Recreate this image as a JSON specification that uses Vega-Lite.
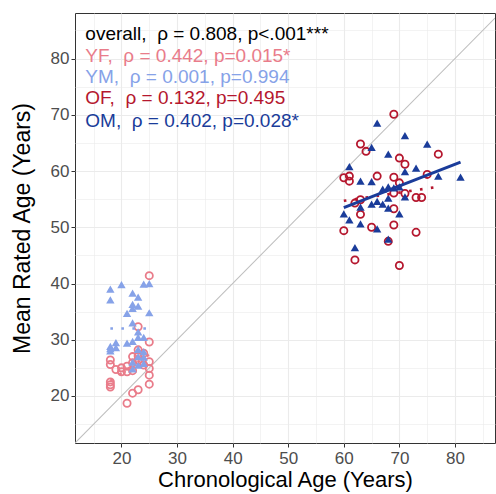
{
  "$schema": "https://vega.github.io/schema/vega-lite/v6.json",
  "autosize": "none",
  "width": 420,
  "height": 430,
  "padding": {"left": 75, "top": 13, "right": 1, "bottom": 51},
  "background": "white",
  "config": {
    "font": "Liberation Sans",
    "view": {"stroke": "#333333", "strokeWidth": 1},
    "axis": {
      "labelFont": "Liberation Sans",
      "titleFont": "Liberation Sans",
      "labelFontSize": 17,
      "labelColor": "#4D4D4D",
      "titleFontSize": 22,
      "titleFontWeight": "normal",
      "titleColor": "#000000",
      "domain": false,
      "gridColor": "#EBEBEB",
      "tickColor": "#333333",
      "tickSize": 4,
      "labelPadding": 2,
      "labelOverlap": false,
      "labelFlush": false
    }
  },
  "datasets": {
    "pts": [
      {"grp": "YF", "age": 25, "rated": 41.4},
      {"grp": "YF", "age": 23, "rated": 32.3},
      {"grp": "YF", "age": 25, "rated": 29.6},
      {"grp": "YF", "age": 23, "rated": 28.2},
      {"grp": "YF", "age": 23, "rated": 27.1},
      {"grp": "YF", "age": 18, "rated": 26.4},
      {"grp": "YF", "age": 18, "rated": 25.6},
      {"grp": "YF", "age": 19, "rated": 24.7},
      {"grp": "YF", "age": 20, "rated": 24.3},
      {"grp": "YF", "age": 21, "rated": 24.3},
      {"grp": "YF", "age": 21, "rated": 25.3},
      {"grp": "YF", "age": 22, "rated": 25.9},
      {"grp": "YF", "age": 23, "rated": 26.4},
      {"grp": "YF", "age": 25, "rated": 26.1},
      {"grp": "YF", "age": 18, "rated": 22.5},
      {"grp": "YF", "age": 18, "rated": 22.0},
      {"grp": "YF", "age": 18, "rated": 21.6},
      {"grp": "YF", "age": 25, "rated": 24.9},
      {"grp": "YF", "age": 25, "rated": 23.7},
      {"grp": "YF", "age": 25, "rated": 22.1},
      {"grp": "YF", "age": 23, "rated": 21.1},
      {"grp": "YF", "age": 22, "rated": 20.5},
      {"grp": "YF", "age": 21, "rated": 18.7},
      {"grp": "YF", "age": 22, "rated": 27.0},
      {"grp": "YF", "age": 24, "rated": 27.6},
      {"grp": "YF", "age": 20, "rated": 25.0},
      {"grp": "YF", "age": 24, "rated": 25.5},
      {"grp": "YF", "age": 22, "rated": 24.5},
      {"grp": "YM", "age": 24, "rated": 39.9},
      {"grp": "YM", "age": 25, "rated": 40.0},
      {"grp": "YM", "age": 18, "rated": 39.0},
      {"grp": "YM", "age": 20, "rated": 39.8},
      {"grp": "YM", "age": 18, "rated": 37.1},
      {"grp": "YM", "age": 22, "rated": 38.3},
      {"grp": "YM", "age": 23, "rated": 37.6},
      {"grp": "YM", "age": 22, "rated": 36.3},
      {"grp": "YM", "age": 22, "rated": 35.6},
      {"grp": "YM", "age": 23, "rated": 36.0},
      {"grp": "YM", "age": 21, "rated": 34.7},
      {"grp": "YM", "age": 25, "rated": 34.8},
      {"grp": "YM", "age": 22, "rated": 33.0},
      {"grp": "YM", "age": 23, "rated": 31.4},
      {"grp": "YM", "age": 23, "rated": 30.4},
      {"grp": "YM", "age": 24, "rated": 30.4},
      {"grp": "YM", "age": 19, "rated": 29.5},
      {"grp": "YM", "age": 22, "rated": 29.7},
      {"grp": "YM", "age": 21, "rated": 29.4},
      {"grp": "YM", "age": 18, "rated": 28.4},
      {"grp": "YM", "age": 18, "rated": 28.0},
      {"grp": "YM", "age": 19, "rated": 28.6},
      {"grp": "YM", "age": 23, "rated": 28.3},
      {"grp": "YM", "age": 24, "rated": 27.9},
      {"grp": "YM", "age": 24, "rated": 26.9},
      {"grp": "YM", "age": 23, "rated": 27.0},
      {"grp": "YM", "age": 22, "rated": 26.0},
      {"grp": "YM", "age": 23, "rated": 25.5},
      {"grp": "YM", "age": 24, "rated": 25.8},
      {"grp": "YM", "age": 22, "rated": 24.8},
      {"grp": "YM", "age": 18, "rated": 28.8},
      {"grp": "OF", "age": 69, "rated": 70.1},
      {"grp": "OF", "age": 63, "rated": 64.8},
      {"grp": "OF", "age": 64, "rated": 63.5},
      {"grp": "OF", "age": 77, "rated": 63.0},
      {"grp": "OF", "age": 70, "rated": 62.3},
      {"grp": "OF", "age": 71, "rated": 61.2},
      {"grp": "OF", "age": 60, "rated": 58.8},
      {"grp": "OF", "age": 61, "rated": 59.1},
      {"grp": "OF", "age": 61, "rated": 58.2},
      {"grp": "OF", "age": 66, "rated": 59.1},
      {"grp": "OF", "age": 69, "rated": 58.9},
      {"grp": "OF", "age": 70, "rated": 57.9},
      {"grp": "OF", "age": 75, "rated": 59.4},
      {"grp": "OF", "age": 69, "rated": 56.1},
      {"grp": "OF", "age": 71, "rated": 56.0},
      {"grp": "OF", "age": 62, "rated": 54.3},
      {"grp": "OF", "age": 63, "rated": 54.9},
      {"grp": "OF", "age": 63, "rated": 52.3},
      {"grp": "OF", "age": 73, "rated": 55.3},
      {"grp": "OF", "age": 74, "rated": 55.3},
      {"grp": "OF", "age": 69, "rated": 53.3},
      {"grp": "OF", "age": 69, "rated": 50.4},
      {"grp": "OF", "age": 65, "rated": 50.0},
      {"grp": "OF", "age": 60, "rated": 49.4},
      {"grp": "OF", "age": 68, "rated": 47.5},
      {"grp": "OF", "age": 73, "rated": 49.1},
      {"grp": "OF", "age": 62, "rated": 44.2},
      {"grp": "OF", "age": 70, "rated": 43.2},
      {"grp": "OM", "age": 66, "rated": 68.5},
      {"grp": "OM", "age": 71, "rated": 66.3},
      {"grp": "OM", "age": 75, "rated": 64.8},
      {"grp": "OM", "age": 65, "rated": 64.2},
      {"grp": "OM", "age": 68, "rated": 63.0},
      {"grp": "OM", "age": 61, "rated": 60.8},
      {"grp": "OM", "age": 73, "rated": 60.5},
      {"grp": "OM", "age": 71, "rated": 59.9},
      {"grp": "OM", "age": 63, "rated": 58.2},
      {"grp": "OM", "age": 65, "rated": 58.1},
      {"grp": "OM", "age": 77, "rated": 59.1},
      {"grp": "OM", "age": 81, "rated": 58.9},
      {"grp": "OM", "age": 67, "rated": 56.8},
      {"grp": "OM", "age": 68, "rated": 57.2},
      {"grp": "OM", "age": 70, "rated": 57.2},
      {"grp": "OM", "age": 69, "rated": 57.0},
      {"grp": "OM", "age": 68, "rated": 55.2},
      {"grp": "OM", "age": 71, "rated": 55.4},
      {"grp": "OM", "age": 65, "rated": 54.1},
      {"grp": "OM", "age": 66, "rated": 54.6},
      {"grp": "OM", "age": 67, "rated": 54.1},
      {"grp": "OM", "age": 68, "rated": 53.4},
      {"grp": "OM", "age": 63, "rated": 53.6},
      {"grp": "OM", "age": 60, "rated": 52.4},
      {"grp": "OM", "age": 61, "rated": 51.3},
      {"grp": "OM", "age": 63, "rated": 50.6},
      {"grp": "OM", "age": 70, "rated": 52.4},
      {"grp": "OM", "age": 66, "rated": 49.7},
      {"grp": "OM", "age": 68, "rated": 47.9},
      {"grp": "OM", "age": 62, "rated": 46.4}
    ],
    "fits": [
      {"grp": "YF", "age": 18, "rated": 22.7},
      {"grp": "YF", "age": 25, "rated": 27.4},
      {"grp": "YM", "age": 18, "rated": 32.0},
      {"grp": "YM", "age": 25, "rated": 32.0},
      {"grp": "OF", "age": 60, "rated": 54.7},
      {"grp": "OF", "age": 77, "rated": 57.2}
    ],
    "fitOM": [
      {"grp": "OM", "age": 60, "rated": 53.5},
      {"grp": "OM", "age": 81, "rated": 61.6}
    ],
    "diag": [
      {"age": 11.64, "rated": 11.64},
      {"age": 87.2, "rated": 87.2}
    ],
    "notes": [
      {"grp": "overall", "age": 13.5, "rated": 83.35, "txt": "overall,\u00a0 ρ = 0.808, p<.001***"},
      {"grp": "YF", "age": 13.5, "rated": 79.4, "txt": "YF,\u00a0 ρ = 0.442, p=0.015*"},
      {"grp": "YM", "age": 13.5, "rated": 75.6, "txt": "YM,\u00a0 ρ = 0.001, p=0.994"},
      {"grp": "OF", "age": 13.5, "rated": 71.9, "txt": "OF,\u00a0 ρ = 0.132, p=0.495"},
      {"grp": "OM", "age": 13.5, "rated": 67.9, "txt": "OM,\u00a0 ρ = 0.402, p=0.028*"}
    ]
  },
  "encoding": {
    "x": {
      "field": "age", "type": "quantitative",
      "scale": {"domain": [11.64, 87.2], "nice": false, "zero": false},
      "axis": {
        "title": "Chronological Age (Years)",
        "values": [15, 20, 25, 30, 35, 40, 45, 50, 55, 60, 65, 70, 75, 80, 85],
        "labelExpr": "datum.value % 10 === 0 ? datum.label : ''",
        "tickOpacity": {"condition": {"test": "datum.value % 10 === 0", "value": 1}, "value": 0},
        "gridWidth": {"condition": {"test": "datum.value % 10 === 0", "value": 1.1}, "value": 0.6},
        "labelPadding": 3,
        "titlePadding": 3
      }
    },
    "y": {
      "field": "rated", "type": "quantitative",
      "scale": {"domain": [11.64, 88.1], "nice": false, "zero": false},
      "axis": {
        "title": "Mean Rated Age (Years)",
        "titleFontSize": 23,
        "values": [15, 20, 25, 30, 35, 40, 45, 50, 55, 60, 65, 70, 75, 80, 85],
        "labelExpr": "datum.value % 10 === 0 ? datum.label : ''",
        "tickOpacity": {"condition": {"test": "datum.value % 10 === 0", "value": 1}, "value": 0},
        "gridWidth": {"condition": {"test": "datum.value % 10 === 0", "value": 1.1}, "value": 0.6},
        "titlePadding": 16
      }
    }
  },
  "layer": [
    {
      "data": {"name": "diag"},
      "mark": {"type": "line", "color": "#BEBEBE", "strokeWidth": 1.1, "clip": true},
      "encoding": {}
    },
    {
      "data": {"name": "pts"},
      "transform": [{"filter": "datum.grp === 'YF' || datum.grp === 'OF'"}],
      "mark": {"type": "point", "shape": "circle", "filled": false, "strokeWidth": 1.8, "size": 52, "opacity": 1},
      "encoding": {
        "color": {"field": "grp", "type": "nominal", "legend": null,
          "scale": {"domain": ["overall", "YF", "YM", "OF", "OM"], "range": ["#000000", "#E97C8A", "#86A2E8", "#B5172E", "#1A3C9A"]}}
      }
    },
    {
      "data": {"name": "pts"},
      "transform": [{"filter": "datum.grp === 'YM' || datum.grp === 'OM'"}],
      "mark": {"type": "point", "shape": "triangle-up", "filled": true, "size": 70, "opacity": 1},
      "encoding": {
        "color": {"field": "grp", "type": "nominal", "legend": null}
      }
    },
    {
      "data": {"name": "fits"},
      "mark": {"type": "line", "strokeWidth": 2.6, "strokeDash": [2.6, 8.4], "strokeCap": "butt"},
      "encoding": {
        "detail": {"field": "grp"},
        "color": {"field": "grp", "type": "nominal", "legend": null}
      }
    },
    {
      "data": {"name": "fitOM"},
      "mark": {"type": "line", "strokeWidth": 3},
      "encoding": {
        "color": {"field": "grp", "type": "nominal", "legend": null}
      }
    },
    {
      "data": {"name": "notes"},
      "mark": {"type": "text", "align": "left", "baseline": "alphabetic", "fontSize": 19, "font": "Liberation Sans"},
      "encoding": {
        "text": {"field": "txt"},
        "color": {"field": "grp", "type": "nominal", "legend": null}
      }
    }
  ]
}
